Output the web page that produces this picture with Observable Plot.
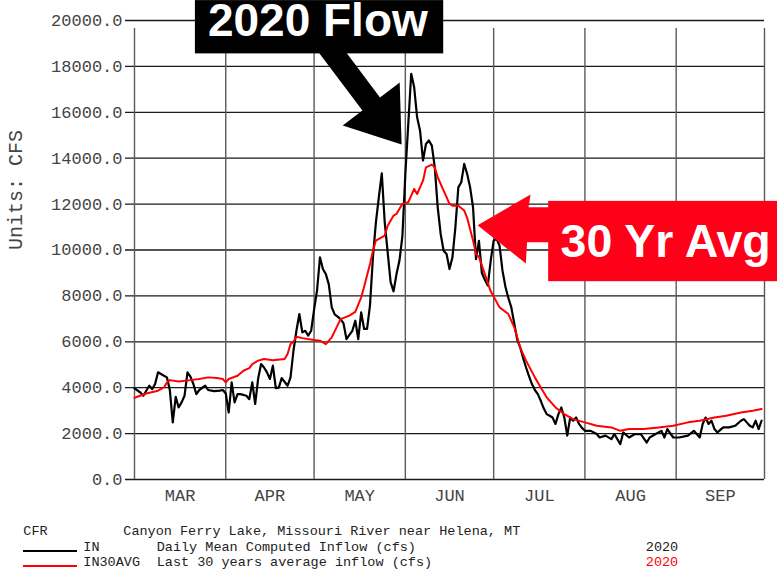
<!DOCTYPE html>
<html><head><meta charset="utf-8">
<script src="https://cdn.jsdelivr.net/npm/d3@7"></script>
<script src="https://cdn.jsdelivr.net/npm/@observablehq/plot@0.6"></script>
<style>
body{margin:0;background:#fff;}
#wrap{position:relative;width:777px;height:569px;overflow:hidden;background:#fff;}
#wrap svg{position:absolute;left:0;top:0;}
.lg{position:absolute;white-space:pre;font-family:"Liberation Mono","Courier New",monospace;font-size:13.5px;line-height:16px;color:#222;}
.sw{position:absolute;height:2px;width:54px;left:23px;}
</style></head><body>
<div id="wrap"></div>
<script>
// ---- data (day offsets from 2020-03-01) ----
const flowDays = [0,2,3,5,6,7,8,10,11,12,13,14,15,16,17,18,19,20,21,22,24,25,27,29,30,31,32,33,34,35,36,38,39,40,41,42,43,44,45,46,47,48,49,50,52,53,54,55,56,57,58,59,60,61,62,63,64,65,66,67,68,69,70,71,72,73,74,75,76,77,78,79,80,81,82,83,84,85,86,87,88,89,90,91,92,93,94,95,96,97,98,99,100,101,102,103,104,105,106,107,108,109,110,111,112,113,114,115,116,117,118,119,120,121,122,123,124,125,126,127,128,129,130,131,132,133,134,135,136,137,138,139,140,141,142,143,144,145,146,147,148,149,150,151,152,153,155,157,158,160,162,163,165,166,168,170,172,174,175,177,179,180,181,183,185,188,190,192,193,194,195,196,197,198,200,202,204,206,207,209,210,211,212,213];
const flowValues = [3970,3790,3650,4085,3940,4160,4670,4520,4450,3900,2490,3600,3140,3360,3650,4670,4480,4160,3720,3900,4085,3900,3850,3870,3900,3750,2920,4230,3360,3720,3720,3650,3500,4230,3290,4400,5030,4880,4670,4380,4960,3985,4000,4420,4085,4450,5610,6480,7210,6410,6480,6270,6480,7400,8230,9680,9170,8950,8500,7500,7200,7100,6990,6800,6120,6300,6480,6920,6120,7280,6560,6560,7600,9700,11200,12300,13340,11200,9900,8600,8200,8950,9540,10600,13310,15500,17680,17090,15780,15200,13900,14620,14770,14550,13600,11860,10700,9970,9830,9170,9680,10990,12730,12950,13750,13310,12730,11860,9600,10400,9000,8700,8450,9540,10410,10480,10190,9100,8400,7900,7500,6800,6100,5760,5300,4880,4500,4160,3900,3720,3430,3100,2850,2780,2700,2420,2850,3140,2700,1910,2700,2560,2700,2420,2250,2120,2120,1980,1830,1910,1760,1980,1540,2050,1830,1980,1980,1610,1830,1980,2120,1830,2200,1830,1830,1910,2120,1830,2420,2700,2420,2560,2200,2050,2270,2270,2340,2560,2630,2340,2270,2560,2200,2560];
const avgDays = [0,4,8,10,11,12,15,19,22,25,28,30,31,32,35,37,39,40,42,44,47,51,52,53,54,55,57,61,63,65,67,70,73,75,77,78,80,81,82,85,86,88,89,91,93,94,95,96,98,99,101,102,103,105,106,107,108,110,112,113,114,115,116,117,119,121,124,127,129,131,133,136,138,140,143,146,149,153,157,162,165,168,173,178,183,188,192,197,201,206,210,213];
const avgValues = [3560,3750,3870,4010,4230,4330,4270,4330,4380,4450,4420,4380,4230,4380,4520,4740,4850,5030,5180,5250,5200,5250,5470,5900,6000,6220,6160,6080,6050,5900,6190,6990,7140,7300,7940,8400,9390,9970,10410,10630,11060,11500,11570,12010,12080,12370,12660,12440,13020,13600,13720,13600,13170,12590,12300,12010,11930,11930,11720,11400,10900,10410,9830,9700,8950,8200,7500,7210,6630,5760,5180,4450,4010,3580,3140,2850,2630,2490,2340,2270,2120,2200,2200,2270,2340,2490,2560,2700,2780,2920,3000,3070];
const yTicks = [0,2000,4000,6000,8000,10000,12000,14000,16000,18000,20000];
const monthStarts = ["2020-03-01","2020-04-01","2020-05-01","2020-06-01","2020-07-01","2020-08-01","2020-09-01","2020-10-01"];
const monthLabels = ["MAR","APR","MAY","JUN","JUL","AUG","SEP"];
const annoLabels = ["2020 Flow","30 Yr Avg"];
const annoTipDays = [90.9, 116.7];
const annoTipValues = [14580, 11060];

const toDate = d => new Date(Date.UTC(2020, 2, 1) + d * 864e5);
const flow = flowDays.map((d, i) => ({date: toDate(d), value: flowValues[i]}));
const avg = avgDays.map((d, i) => ({date: toDate(d), value: avgValues[i]}));
const starts = monthStarts.map(s => new Date(s + "T00:00:00Z"));
const months = monthLabels.map((label, i) => ({label, mid: new Date((+starts[i] + +starts[i + 1]) / 2)}));

const mono = "Liberation Mono, Courier New, monospace";
const RED = "#ff0000";

const chart = Plot.plot({
  width: 777, height: 512,
  marginLeft: 134, marginRight: 13, marginTop: 20, marginBottom: 33,
  style: {fontFamily: mono, background: "#fff", overflow: "visible"},
  x: {type: "utc", domain: [starts[0], starts[starts.length - 1]], axis: null},
  y: {domain: [0, 20000], axis: null},
  marks: [
    Plot.ruleY(yTicks, {x1: starts[0], x2: starts[starts.length - 1], insetLeft: -9, stroke: "#1a1a1a", strokeWidth: 1.3}),
    Plot.ruleX(starts, {y1: 0, y2: 20000, insetBottom: -8, stroke: "#5a5a5a", strokeWidth: 1.4}),
    Plot.axisY({ticks: yTicks, tickSize: 0, tickPadding: 12, tickFormat: d => d.toFixed(1), label: null, fontSize: 17, fontFamily: mono, fill: "#444"}),
    Plot.text(months, {x: "mid", text: "label", frameAnchor: "bottom", dy: 21, fontSize: 17, fontFamily: mono, fill: "#444"}),
    Plot.text(["Units: CFS"], {text: d => d, frameAnchor: "left", rotate: -90, dx: -119, fontSize: 20, fontFamily: mono, fill: "#444"}),
    Plot.line(flow, {x: "date", y: "value", stroke: "#000", strokeWidth: 2.2}),
    Plot.line(avg, {x: "date", y: "value", stroke: RED, strokeWidth: 2})
  ]
});

// annotations anchored to data through the scales
const sx = chart.scale("x"), sy = chart.scale("y");
const svg = d3.select(chart);
const g = svg.append("g").attr("text-anchor", "start");
const sans = "Liberation Sans, Arial, sans-serif";
{
  const tx = sx.apply(toDate(annoTipDays[0])), ty = sy.apply(annoTipValues[0]);
  const pts = [[0,0],[-1.9,-61.9],[-21.6,-47.0],[-66.4,-106.6],[-84.0,-93.4],[-39.2,-33.8],[-58.9,-18.9]];
  g.append("polygon").attr("points", pts.map(([a,b]) => `${tx+a},${ty+b}`).join(" ")).attr("fill", "#000");
  g.append("rect").attr("x", tx - 206.7).attr("y", ty - 144.3).attr("width", 248.3).attr("height", 53.3).attr("fill", "#000");
  g.append("text").attr("x", tx - 193.7).attr("y", ty - 108.5).attr("fill", "#fff").attr("text-anchor", "start")
    .attr("font-family", sans).attr("font-weight", "bold").attr("font-size", 46).text(annoLabels[0]);
}
{
  const tx = sx.apply(toDate(annoTipDays[1])), ty = sy.apply(annoTipValues[1]);
  const pts = [[0,0],[53,-30.7],[51,-18],[75,-18],[75,17],[49.5,17],[48.3,38.3]];
  g.append("polygon").attr("points", pts.map(([a,b]) => `${tx+a},${ty+b}`).join(" ")).attr("fill", "#ff0019");
  g.append("rect").attr("x", tx + 70.6).attr("y", ty - 24.3).attr("width", 300).attr("height", 80.3).attr("fill", "#ff0019");
  g.append("text").attr("x", tx + 83).attr("y", ty + 31.7).attr("fill", "#fff").attr("text-anchor", "start")
    .attr("font-family", sans).attr("font-weight", "bold").attr("font-size", 46.5).text(annoLabels[1]);
}

const wrap = document.getElementById("wrap");
wrap.appendChild(chart);

// legend below the chart
const legendRows = [
  {code: "CFR", desc: "Canyon Ferry Lake, Missouri River near Helena, MT", descX: 123.3, year: "", color: null, y: 524},
  {code: "IN", desc: "Daily Mean Computed Inflow (cfs)", descX: 156.7, year: "2020", color: "#000", y: 539.5},
  {code: "IN30AVG", desc: "Last 30 years average inflow (cfs)", descX: 156.7, year: "2020", color: RED, y: 555}
];
legendRows.forEach((r, i) => {
  const c = document.createElement("div"); c.className = "lg";
  c.style.left = (i === 0 ? 23.3 : 83.3) + "px"; c.style.top = r.y + "px"; c.textContent = r.code; wrap.appendChild(c);
  const d = document.createElement("div"); d.className = "lg";
  d.style.left = r.descX + "px"; d.style.top = r.y + "px"; d.textContent = r.desc; wrap.appendChild(d);
  if (r.year) {
    const yv = document.createElement("div"); yv.className = "lg";
    yv.style.left = "645.8px"; yv.style.top = r.y + "px"; yv.textContent = r.year;
    if (r.color === RED) yv.style.color = RED;
    wrap.appendChild(yv);
  }
  if (r.color) {
    const s = document.createElement("div"); s.className = "sw";
    s.style.background = r.color; s.style.top = (r.y + 10) + "px"; wrap.appendChild(s);
  }
});
</script>
</body></html>
